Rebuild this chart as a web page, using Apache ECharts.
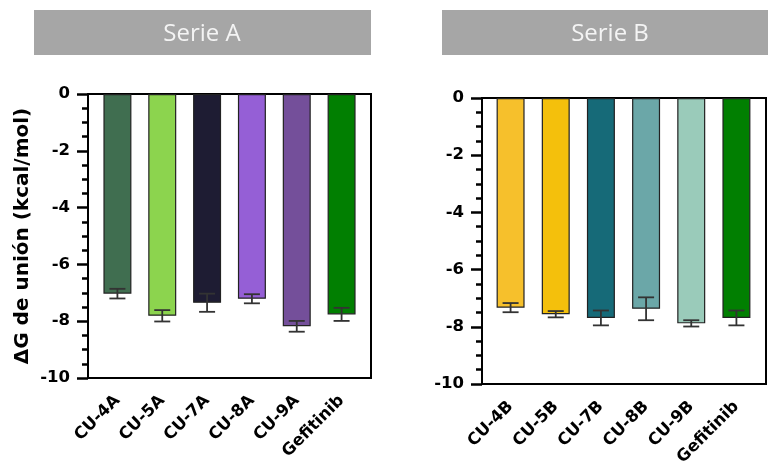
<!DOCTYPE html>
<html>
<head>
<meta charset="utf-8">
<script src="https://cdn.jsdelivr.net/npm/echarts@6/dist/echarts.min.js"></script>
<style>
	html,body{margin:0;padding:0;background:#fff;}
	#main{width:768px;height:471px;}
</style>
</head>
<body>
<div id="main"></div>
<script>
// datos
var categoriasA = ['CU-4A', 'CU-5A', 'CU-7A', 'CU-8A', 'CU-9A', 'Gefitinib'];
var valoresA = [-7.03, -7.81, -7.35, -7.21, -8.18, -7.76];
var erroresA = [0.17, 0.20, 0.32, 0.16, 0.19, 0.23];
var coloresA = ['#406e50', '#8cd44e', '#1e1c33', '#955fd6', '#744f9a', '#017f01'];

var categoriasB = ['CU-4B', 'CU-5B', 'CU-7B', 'CU-8B', 'CU-9B', 'Gefitinib'];
var valoresB = [-7.33, -7.56, -7.69, -7.37, -7.88, -7.69];
var erroresB = [0.16, 0.11, 0.26, 0.40, 0.11, 0.26];
var coloresB = ['#f6c02c', '#f4c00c', '#166a78', '#6ba7a8', '#9acbba', '#017f01'];

var titulos = ['Serie A', 'Serie B'];
var nombreEjeY = 'ΔG de unión (kcal/mol)';
var yMin = -10, yMax = 0, yPaso = 2;

var fuente = 'DejaVu Sans';

function barras(valores, colores){
	var out = [];
	for (var i = 0; i < valores.length; i++) {
		out.push({value: valores[i], itemStyle: {color: colores[i]}});
	}
	return out;
}

function errores(valores, errs){
	var out = [];
	for (var i = 0; i < valores.length; i++) {
		out.push([i, valores[i] - errs[i], valores[i] + errs[i]]);
	}
	return out;
}

// barra de error
function errorItem(params, api){
	var x = api.value(0);
	var pHi = api.coord([x, api.value(2)]);
	var pLo = api.coord([x, api.value(1)]);
	var w = 8;
	var st = {stroke: '#333', lineWidth: 1.8};
	return {
		type: 'group',
		children: [
			{type: 'line', shape: {x1: pHi[0], y1: pHi[1], x2: pLo[0], y2: pLo[1]}, style: st},
			{type: 'line', shape: {x1: pHi[0] - w, y1: pHi[1], x2: pHi[0] + w, y2: pHi[1]}, style: st},
			{type: 'line', shape: {x1: pLo[0] - w, y1: pLo[1], x2: pLo[0] + w, y2: pLo[1]}, style: st}
		]
	};
}

function ejeMarco(grid, conNombre){
	var eje = {
		type: 'value', gridIndex: grid, min: yMin, max: yMax, interval: yPaso,
		axisLine: {show: true, lineStyle: {color: '#000', width: 2}},
		axisTick: {show: true, length: 11, lineStyle: {color: '#000', width: 2.5}},
		minorTick: {show: true, splitNumber: 4, length: 6, lineStyle: {color: '#000', width: 2.5}},
		splitLine: {show: false},
		axisLabel: {color: '#000', fontFamily: fuente, fontWeight: 'bold', fontSize: 16.5, margin: 18}
	};
	if (conNombre) {
		eje.name = nombreEjeY;
		eje.nameLocation = 'middle';
		eje.nameRotate = 90;
		eje.nameGap = 55;
		eje.nameTextStyle = {color: '#000', fontFamily: fuente, fontWeight: 'bold', fontSize: 20};
	}
	return eje;
}

function ejeCategorias(grid, cats){
	return {
		type: 'category', gridIndex: grid, data: cats,
		axisLine: {show: false},
		axisTick: {show: true, alignWithLabel: true, length: 10, lineStyle: {color: '#000', width: 2.5}},
		axisLabel: {interval: 0, rotate: 45, color: '#000', fontFamily: fuente, fontWeight: 'bold', fontSize: 16.5, margin: 20}
	};
}

var myChart = echarts.init(document.getElementById('main'));
var option = {
	backgroundColor: '#fff',
	animation: false,
	graphic: [
		{type: 'rect', shape: {x: 34, y: 10, width: 337, height: 45}, style: {fill: '#a6a6a6'}},
		{type: 'text', x: 202, y: 34, style: {text: titulos[0], fill: '#f4f4f4', font: '24px "Open Sans"', align: 'center', verticalAlign: 'middle'}},
		{type: 'rect', shape: {x: 442, y: 10, width: 337, height: 45}, style: {fill: '#a6a6a6'}},
		{type: 'text', x: 610, y: 34, style: {text: titulos[1], fill: '#f4f4f4', font: '24px "Open Sans"', align: 'center', verticalAlign: 'middle'}}
	],
	grid: [
		{left: 88, top: 94, width: 283, height: 284, show: true, borderColor: '#000', borderWidth: 2},
		{left: 95, top: 94, width: 269, height: 284},
		{left: 482, top: 98, width: 284, height: 286, show: true, borderColor: '#000', borderWidth: 2},
		{left: 488, top: 98, width: 271, height: 286}
	],
	xAxis: [
		{type: 'value', gridIndex: 0, show: false},
		ejeCategorias(1, categoriasA),
		{type: 'value', gridIndex: 2, show: false},
		ejeCategorias(3, categoriasB)
	],
	yAxis: [
		ejeMarco(0, true),
		{type: 'value', gridIndex: 1, min: yMin, max: yMax, show: false},
		ejeMarco(2, false),
		{type: 'value', gridIndex: 3, min: yMin, max: yMax, show: false}
	],
	series: [
		{type: 'bar', xAxisIndex: 1, yAxisIndex: 1, barWidth: 28, data: barras(valoresA, coloresA),
			itemStyle: {borderColor: '#222', borderWidth: 1.2}},
		{type: 'custom', xAxisIndex: 1, yAxisIndex: 1, renderItem: errorItem, data: errores(valoresA, erroresA), z: 5},
		{type: 'bar', xAxisIndex: 3, yAxisIndex: 3, barWidth: 28, data: barras(valoresB, coloresB),
			itemStyle: {borderColor: '#222', borderWidth: 1.2}},
		{type: 'custom', xAxisIndex: 3, yAxisIndex: 3, renderItem: errorItem, data: errores(valoresB, erroresB), z: 5}
	]
};
myChart.setOption(option);
</script>
</body>
</html>
